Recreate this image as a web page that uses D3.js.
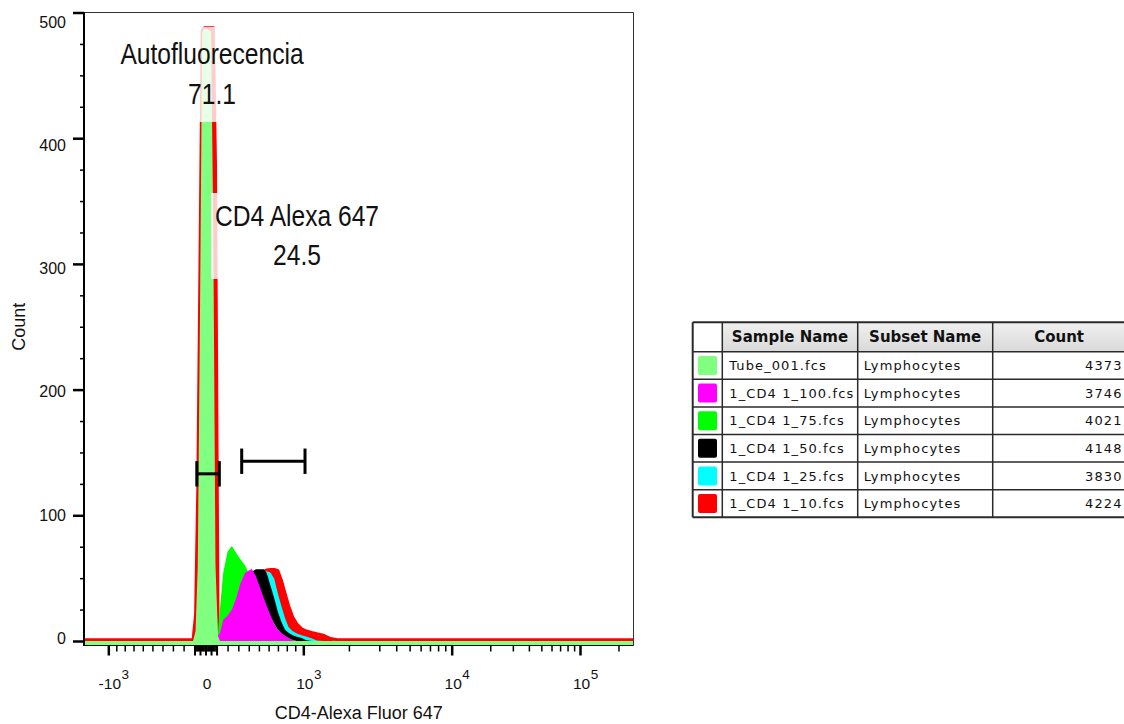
<!DOCTYPE html>
<html><head><meta charset="utf-8">
<script src="https://cdn.jsdelivr.net/npm/d3@7"></script>
<style>
html,body{margin:0;padding:0;background:#fff;}
svg{display:block;font-family:"Liberation Sans",Arial,sans-serif;}
</style></head><body>
<svg id="chart" width="1124" height="724"></svg>
<script>
// ================= DATA =================
// histogram bin positions (CD4-Alexa Fluor 647 channel values)
const binX = [-1330,-200,-150,-113,-90,-70,-50,-30,-10,10,30,50,70,90,113,130,160,200,240,280,320,364,400,430,470,510,550,580,620,660,700,740,780,820,870,920,980,1050,1150,1250,1380,1540,1700,2000,262144];

const sampleNames = ["Tube_001.fcs","1_CD4 1_100.fcs","1_CD4 1_75.fcs","1_CD4 1_50.fcs","1_CD4 1_25.fcs","1_CD4 1_10.fcs"];
const subsetNames = ["Lymphocytes","Lymphocytes","Lymphocytes","Lymphocytes","Lymphocytes","Lymphocytes"];
const eventCounts = [4373,3746,4021,4148,3830,4224];
const sampleColors = ["#80ff80","#ff00ff","#00ff00","#000000","#00ffff","#ff0000"];

// counts per bin for each sample (same order as binX)
const countsTube001 = [0,0,0,0,8,60,260,484,487,487,486,485,330,60,4,0,0,0,0,0,0,0,0,0,0,0,0,0,0,0,0,0,0,0,0,0,0,0,0,0,0,0,0,0,0];
const countsCD4_100 = [0,0,0,0,2,20,150,300,310,310,300,250,150,30,5,6,17,20,25,34,46,54,56,57.3,51.5,43,34,28,20.5,13.5,9,6.3,4.2,2.5,0.5,0,0,0,0,0,0,0,0,0,0];
const countsCD4_75  = [0,0,0,0,3,30,150,340,350,350,340,280,160,40,6,25,54,71,75.5,70,65,60,54,50,44,37,30,25,19,14,9,6,4,2,1,0,0,0,0,0,0,0,0,0,0];
const countsCD4_50  = [0,0,0,0,3,25,140,320,330,330,320,260,150,35,5,2,5,9,14,22,32,42,50,55,57,57,57,54,44,34,23,15,9,6.5,4.5,3.3,2.4,0.5,0,0,0,0,0,0,0];
const countsCD4_25  = [0,0,0,0,2,20,120,290,300,300,290,240,140,30,4,1,3,6,10,16,24,33,40,45,50,53,55,55.5,54.5,49.5,37.5,27.5,18,11.2,7.8,6,4.5,3.5,2.1,0.3,0,0,0,0,0];
const countsCD4_10  = [0,0,0,0,20,120,300,485,487,487,487,487,487,380,15,6,8,12,17,22,28,35,40,44,48,52,54.5,55.5,56,56,55,47,37,27.3,18,12.6,8.8,7,5.8,4.8,3.7,1,0,0,0];
const seriesCounts = [countsTube001,countsCD4_100,countsCD4_75,countsCD4_50,countsCD4_25,countsCD4_10];

// gates
const gateNames = ["Autofluorecencia","CD4 Alexa 647"];
const gateMin   = [-79, 332];
const gateMax   = [125, 1030];
const gateLevel = [133, 143];
const gatePct   = ["71.1","24.5"];

// axis ticks
const yMajorTicks = [0,100,200,300,400,500];
const yMinorTicks = [25,50,75,125,150,175,225,250,275,325,350,375,425,450,475];
const xMajorTicks = [-1000,0,1000,10000,100000];
const xMajorBase  = ["-10","0","10","10","10"];
const xMajorExp   = ["3","","3","4","5"];
const xZeroTicks  = [-100,-50,0,50,100];
const xMinorTicks = [-900,-800,-700,-600,-500,-400,-300,-200,
  -90,-80,-70,-60,-40,-30,-20,-10,10,20,30,40,60,70,80,90,
  200,300,400,500,600,700,800,900,
  2000,3000,4000,5000,6000,7000,8000,9000,
  20000,30000,40000,50000,60000,70000,80000,90000,200000];

// ================= CHART =================
const svg = d3.select("#chart");
const plotL = 84, plotR = 633.5, plotT = 12.5, plotB = 641;

// biexponential-like display transform for the x axis
const tX = v => Math.asinh(v / 1000);
const xAnchorVals = [-1330, -1000, 0, 1000, 3000, 10000, 100000, 262144];
const xAnchorPx   = [plotL, 108.3, 205.5, 303.3, 379.3, 451.7, 580, plotR];
const xLin = d3.scaleLinear().domain(xAnchorVals.map(tX)).range(xAnchorPx);
const X = v => xLin(tX(v));
X.range = () => [plotL, plotR];
X.domain = () => [xAnchorVals[0], xAnchorVals[xAnchorVals.length-1]];
X.copy = () => X;

const y = d3.scaleLinear().domain([0,500]).range([plotB, plotT]);
const yLab = d3.scaleLinear().domain([0,500]).range([638, 22]);

// histograms
const gHist = svg.append("g");
const area = d3.area().x((d,i)=>X(binX[i])).y0(y(0)+4).y1(d=>y(d));
const line = d3.line().x((d,i)=>X(binX[i])).y(d=>y(d));
const drawOrder = [5,4,3,2,1,0];
drawOrder.forEach(k => {
  gHist.append("path").attr("d", area(seriesCounts[k])).attr("fill", sampleColors[k]);
  if (k === 5) {
    gHist.append("path").attr("d", line(seriesCounts[k]))
      .attr("transform","translate(0,-1.2)")
      .attr("fill","none").attr("stroke", sampleColors[k])
      .attr("stroke-width",3).attr("stroke-linejoin","round");
  }
});

// annotation backgrounds (semi-transparent)
svg.append("rect").attr("x",110).attr("y",27).attr("width",200).attr("height",95)
  .attr("fill","#fff").attr("opacity",0.8);
svg.append("rect").attr("x",211).attr("y",193).attr("width",178).attr("height",86)
  .attr("fill","#fff").attr("opacity",0.8);

// frame
svg.append("line").attr("x1",plotL).attr("x2",plotR).attr("y1",plotT).attr("y2",plotT).attr("stroke","#333").attr("stroke-width",1);
svg.append("line").attr("x1",plotR).attr("x2",plotR).attr("y1",plotT).attr("y2",645.5).attr("stroke","#333").attr("stroke-width",1);
svg.append("line").attr("x1",plotL).attr("x2",plotR).attr("y1",645.5).attr("y2",645.5).attr("stroke","#000").attr("stroke-width",1);
svg.append("line").attr("x1",plotL).attr("x2",plotL).attr("y1",plotT).attr("y2",646).attr("stroke","#000").attr("stroke-width",2);

// y axis ticks
const yMinorAxis = d3.axisLeft(y).tickValues(yMinorTicks).tickSize(4).tickFormat("");
const yMajorAxis = d3.axisLeft(y).tickValues(yMajorTicks).tickSize(11).tickFormat("");
const gyMin = svg.append("g").attr("transform",`translate(${plotL},0)`).call(yMinorAxis);
const gyMaj = svg.append("g").attr("transform",`translate(${plotL},0)`).call(yMajorAxis);
[gyMin, gyMaj].forEach(g => g.select(".domain").remove());
gyMin.selectAll(".tick line").attr("stroke","#000").attr("stroke-width",1.5);
gyMaj.selectAll(".tick line").attr("stroke","#000").attr("stroke-width",2.5);
svg.append("g").selectAll("text").data(yMajorTicks).join("text")
  .attr("x",66).attr("y",d=>yLab(d)).attr("dy","0.36em")
  .attr("text-anchor","end").attr("font-size",16).attr("fill","#111")
  .text(d=>d);

// x axis ticks
const xAxisY = 645.5;
const xMinorAxis = d3.axisBottom(X).tickValues(xMinorTicks).tickSize(6).tickFormat("");
const xZeroAxis  = d3.axisBottom(X).tickValues(xZeroTicks).tickSize(10).tickFormat("");
const xMajorAxis = d3.axisBottom(X).tickValues(xMajorTicks.filter(v=>v!==0)).tickSize(10).tickFormat("");
const gxMin = svg.append("g").attr("transform",`translate(0,${xAxisY})`).call(xMinorAxis);
const gxZero = svg.append("g").attr("transform",`translate(0,${xAxisY})`).call(xZeroAxis);
const gxMaj = svg.append("g").attr("transform",`translate(0,${xAxisY})`).call(xMajorAxis);
[gxMin,gxZero,gxMaj].forEach(g => g.select(".domain").remove());
gxMin.selectAll(".tick line").attr("stroke","#000").attr("stroke-width",1.5);
gxZero.selectAll(".tick line").attr("stroke","#000").attr("stroke-width",2);
gxMaj.selectAll(".tick line").attr("stroke","#000").attr("stroke-width",2.5);

const gxl = svg.append("g");
xMajorTicks.forEach((v,i) => {
  const cx = X(v) + 1.5;
  const t = gxl.append("text").attr("x",cx).attr("y",688.5)
    .attr("text-anchor","middle").attr("font-size",15.5).attr("fill","#111").text(xMajorBase[i]);
  if (xMajorExp[i]) {
    const w = t.node().getComputedTextLength();
    gxl.append("text").attr("x",cx + w/2 + 0.5).attr("y",678.5)
      .attr("font-size",13.5).attr("fill","#111").text(xMajorExp[i]);
  }
});

// axis titles
svg.append("text").attr("x",(plotL+plotR)/2).attr("y",719)
  .attr("text-anchor","middle").attr("font-size",18).attr("fill","#111").text("CD4-Alexa Fluor 647");
svg.append("text").attr("transform",`translate(25,${(plotT+plotB)/2}) rotate(-90)`)
  .attr("text-anchor","middle").attr("font-size",18).attr("fill","#111").text("Count");

// gates
const capH = 12.7;
gateNames.forEach((n,i) => {
  const g = svg.append("g").attr("stroke","#000").attr("stroke-width",3);
  const x1 = X(gateMin[i]), x2 = X(gateMax[i]), yy = y(gateLevel[i]);
  g.append("line").attr("x1",x1).attr("x2",x2).attr("y1",yy).attr("y2",yy);
  g.append("line").attr("x1",x1).attr("x2",x1).attr("y1",yy-capH).attr("y2",yy+capH);
  g.append("line").attr("x1",x2).attr("x2",x2).attr("y1",yy-capH).attr("y2",yy+capH);
});

// gate annotations
const annPos = [{cx:212, y1:64, y2:104}, {cx:297, y1:226, y2:265}];
gateNames.forEach((n,i) => {
  const p = annPos[i];
  svg.append("g").attr("transform",`translate(${p.cx},${p.y1}) scale(0.82,1)`)
    .append("text").attr("text-anchor","middle").attr("font-size",30).attr("fill","#111").text(n);
  svg.append("g").attr("transform",`translate(${p.cx},${p.y2}) scale(0.82,1)`)
    .append("text").attr("text-anchor","middle").attr("font-size",30).attr("fill","#111").text(gatePct[i]);
});

// ================= LEGEND TABLE =================
const colX = [692.7, 722.3, 857.7, 992.7, 1125.5];
const tTop = 322.3, headH = 29.4, rowH = 27.6;
const defs = svg.append("defs");
const grad = defs.append("linearGradient").attr("id","hdr").attr("x1",0).attr("x2",0).attr("y1",0).attr("y2",1);
grad.append("stop").attr("offset","0%").attr("stop-color","#f0f0f0");
grad.append("stop").attr("offset","100%").attr("stop-color","#d9d9d9");
const gT = svg.append("g");
gT.append("rect").attr("x",colX[1]).attr("y",tTop).attr("width",colX[4]-colX[1]).attr("height",headH).attr("fill","url(#hdr)");
const headers = ["Sample Name","Subset Name","Count"];
headers.forEach((h,i) => {
  gT.append("text").attr("x",(colX[i+1]+colX[i+2])/2).attr("y",tTop+headH/2).attr("dy","0.36em")
    .attr("text-anchor","middle").attr("font-family","DejaVu Sans").attr("font-weight","bold")
    .attr("font-size",15).attr("fill","#111").text(h);
});
sampleNames.forEach((s,i) => {
  const cy = tTop + headH + rowH*i + rowH/2;
  gT.append("rect").attr("x",(colX[0]+colX[1])/2-9.5).attr("y",cy-9.5).attr("width",19).attr("height",19)
    .attr("rx",2).attr("fill",sampleColors[i]);
  gT.append("text").attr("x",colX[1]+7).attr("y",cy).attr("dy","0.36em")
    .attr("font-family","DejaVu Sans").attr("font-size",13).attr("letter-spacing","1.1px").attr("fill","#111").text(s);
  gT.append("text").attr("x",colX[2]+6).attr("y",cy).attr("dy","0.36em")
    .attr("font-family","DejaVu Sans").attr("font-size",13).attr("letter-spacing","1.1px").attr("fill","#111").text(subsetNames[i]);
  gT.append("text").attr("x",1122.5).attr("y",cy).attr("dy","0.36em").attr("text-anchor","end")
    .attr("font-family","DejaVu Sans").attr("font-size",13).attr("letter-spacing","1.1px").attr("fill","#111").text(eventCounts[i]);
});
const tBottom = tTop + headH + rowH*sampleNames.length;
const hLines = [tTop, tTop+headH].concat(sampleNames.map((s,i)=>tTop+headH+rowH*(i+1)));
hLines.forEach((yy,i) => {
  gT.append("line").attr("x1",colX[0]).attr("x2",colX[4]).attr("y1",yy).attr("y2",yy)
    .attr("stroke","#2a2a2a").attr("stroke-width", (i===0||i===hLines.length-1)?2:1.5);
});
colX.forEach((xx,i) => {
  gT.append("line").attr("x1",xx).attr("x2",xx).attr("y1",tTop).attr("y2",tBottom)
    .attr("stroke","#2a2a2a").attr("stroke-width", i===0?2:1.5);
});
</script>
</body></html>
